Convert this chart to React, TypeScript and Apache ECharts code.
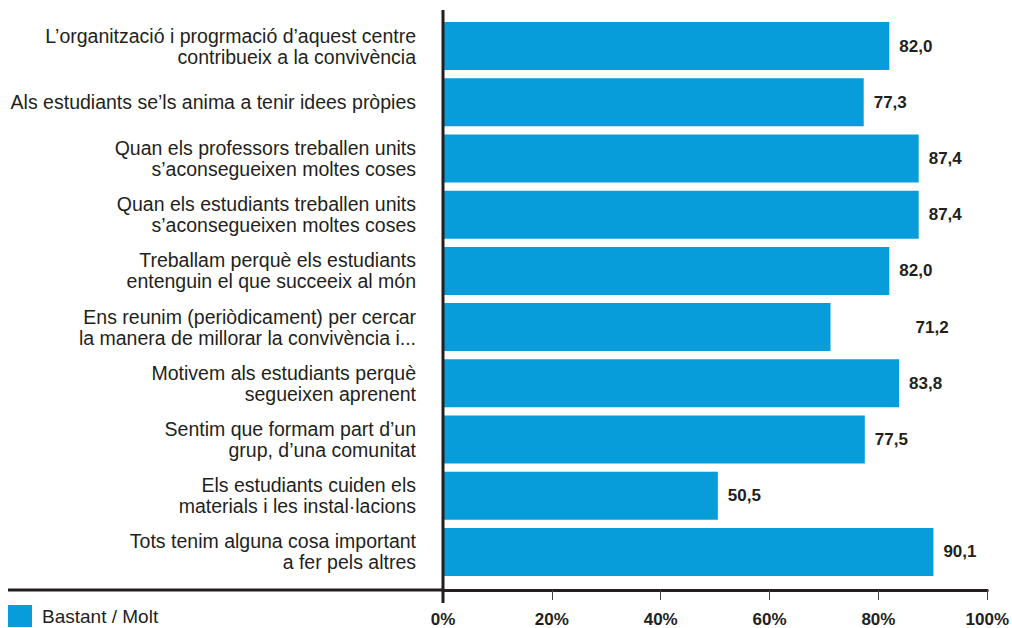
import React, { useEffect, useRef } from "react";
import * as echarts from "echarts";

const categories = [
  "L’organització i progrmació d’aquest centre\ncontribueix a la convivència",
  "Als estudiants se’ls anima a tenir idees pròpies",
  "Quan els professors treballen units\ns’aconsegueixen moltes coses",
  "Quan els estudiants treballen units\ns’aconsegueixen moltes coses",
  "Treballam perquè els estudiants\nentenguin el que succeeix al món",
  "Ens reunim (periòdicament) per cercar\nla manera de millorar la convivència i...",
  "Motivem als estudiants perquè\nsegueixen aprenent",
  "Sentim que formam part d’un\ngrup, d’una comunitat",
  "Els estudiants cuiden els\nmaterials i les instal·lacions",
  "Tots tenim alguna cosa important\na fer pels altres",
];
const values = [82.0, 77.3, 87.4, 87.4, 82.0, 71.2, 83.8, 77.5, 50.5, 90.1];
const seriesName = "Bastant / Molt";
const xTicks = [0, 20, 40, 60, 80, 100];

const TEXT = "#231f20";
const BAR = "#069dda";
const FONT = "'Liberation Sans', Arial, Helvetica, sans-serif";

export default function App() {
  const ref = useRef<HTMLDivElement>(null);
  useEffect(() => {
    document.body.style.margin = "0";
    const chart = echarts.init(ref.current!, null, { renderer: "svg" });
    const gridLeft = 443;
    const gridTop = 18;
    const gridBottom = 48;
    const axisY = 628 - gridBottom + 10;
    chart.setOption({
      animation: false,
      textStyle: { fontFamily: FONT },
      grid: { left: gridLeft, right: 20, top: gridTop, bottom: gridBottom, containLabel: false },
      legend: {
        data: [seriesName],
        left: 8,
        top: 605,
        padding: 0,
        itemWidth: 24,
        itemHeight: 22,
        icon: "rect",
        textStyle: { fontSize: 19, color: TEXT, fontFamily: FONT, padding: [2, 0, 0, 5] },
      },
      xAxis: {
        type: "value",
        min: xTicks[0],
        max: xTicks[xTicks.length - 1],
        interval: 20,
        offset: 10,
        axisLine: { show: true, lineStyle: { color: TEXT, width: 3 } },
        axisTick: { show: true, length: 10, lineStyle: { color: "#444", width: 1 } },
        splitLine: { show: false },
        axisLabel: {
          formatter: "{value}%",
          fontWeight: "bold",
          fontSize: 17,
          color: TEXT,
          margin: 21,
          fontFamily: FONT,
        },
      },
      yAxis: {
        type: "category",
        data: categories,
        inverse: true,
        axisLine: { show: false },
        axisTick: { show: false },
        axisLabel: {
          margin: 27,
          fontSize: 19.5,
          lineHeight: 21,
          color: TEXT,
          align: "right",
          fontFamily: FONT,
        },
      },
      graphic: [
        {
          type: "line",
          shape: { x1: 8, y1: axisY, x2: gridLeft, y2: axisY },
          style: { stroke: TEXT, lineWidth: 3 },
        },
        {
          type: "line",
          shape: { x1: gridLeft, y1: 10, x2: gridLeft, y2: axisY + 13 },
          style: { stroke: TEXT, lineWidth: 3 },
          z: 100,
        },
      ],
      series: [
        {
          name: seriesName,
          type: "bar",
          barWidth: 48,
          itemStyle: { color: BAR },
          data: values.map((v, i) =>
            i === 5 ? { value: v, label: { distance: 85 } } : v
          ),
          label: {
            show: true,
            position: "right",
            distance: 10,
            fontWeight: "bold",
            fontSize: 17,
            color: TEXT,
            fontFamily: FONT,
            formatter: (p: any) => Number(p.value).toFixed(1).replace(".", ","),
          },
        },
      ],
    });
    return () => chart.dispose();
  }, []);
  return (
    <div
      ref={ref}
      style={{ position: "absolute", left: 0, top: 0, width: 1012, height: 628 }}
    />
  );
}
